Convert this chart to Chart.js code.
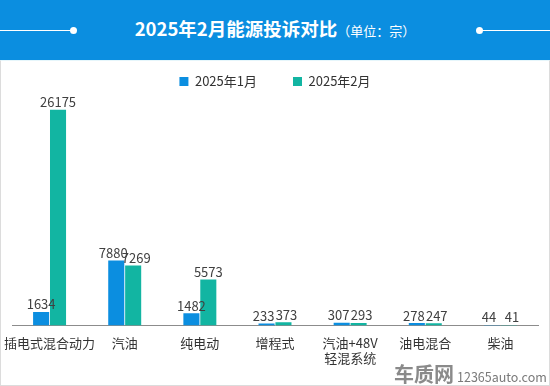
<!DOCTYPE html>
<html>
<head>
<meta charset="utf-8">
<script src="https://cdn.jsdelivr.net/npm/chart.js@4.4.0/dist/chart.umd.min.js"></script>
<style>
    body { margin: 0; background: #fff; font-family: "Noto Sans CJK SC", "Noto Sans", sans-serif; }
    .wrap { position: relative; width: 550px; height: 386px; overflow: hidden; }
    .header { position: absolute; left: 0; top: 0; width: 550px; height: 60px; background: #0b8ee0; }
    .header .title { position: absolute; left: 0; width: 550px; top: 15px; text-align: center; color: #fff; }
    .header .title b { font-size: 18.5px; }
    .header .title span { font-size: 13px; }
    .line { position: absolute; top: 30px; height: 1px; background: #fff; }
    .dot { position: absolute; top: 27px; width: 7px; height: 7px; border-radius: 50%; background: #fff; }
    .panel { position: absolute; left: 0; top: 60px; width: 548px; height: 324px; border: 1px solid #dcdcdc; border-top-color: #e6f6fb; }
    #chart { position: absolute; left: 0; top: 39px; }
    .mark { position: absolute; left: 394px; top: 359px; color: #8a8a8a; white-space: nowrap; }
    .mark b { font-size: 20px; }
    .mark span { font-size: 12.5px; color: #7a7a7a; margin-left: 3px; }
</style>
</head>
<body>
<div class="wrap">
    <div class="header">
        <div class="line" style="left:0;width:72px"></div>
        <div class="dot" style="left:70px"></div>
        <div class="line" style="left:480px;width:70px"></div>
        <div class="dot" style="left:476px"></div>
        <div class="title"><b>2025年2月能源投诉对比</b><span>（单位：宗）</span></div>
    </div>
    <div class="panel"></div>
    <canvas id="chart" width="550" height="347"></canvas>
    <div class="mark"><b>车质网</b><span>12365auto.com</span></div>
</div>
<script>
// Data
const categories = ['插电式混合动力', '汽油', '纯电动', '增程式', ['汽油+48V', '轻混系统'], '油电混合', '柴油'];
const seriesNames = ['2025年1月', '2025年2月'];
const jan = [1634, 7880, 1482, 233, 307, 278, 44];
const feb = [26175, 7269, 5573, 373, 293, 247, 41];
const colors = ['#0b8ee0', '#12b5a2'];

// value labels above bars, nudged apart when two labels sit at about the same height
const barLabels = {
    id: 'barLabels',
    afterDatasetsDraw(chart) {
        const ctx = chart.ctx;
        const a = chart.getDatasetMeta(0).data;
        const b = chart.getDatasetMeta(1).data;
        ctx.save();
        ctx.font = '13px "Noto Sans CJK SC", sans-serif';
        ctx.fillStyle = '#404040';
        ctx.textAlign = 'center';
        ctx.textBaseline = 'bottom';
        chart.data.labels.forEach((_, j) => {
            const close = Math.abs(a[j].y - b[j].y) < 14;
            const shift = close ? 3 : 0;
            ctx.fillText(jan[j], a[j].x - shift, a[j].y - 1);
            ctx.fillText(feb[j], b[j].x + shift, b[j].y - 1);
        });
        ctx.restore();
    }
};

new Chart(document.getElementById('chart'), {
    type: 'bar',
    data: {
        labels: categories,
        datasets: [
            { label: seriesNames[0], data: jan, backgroundColor: colors[0] },
            { label: seriesNames[1], data: feb, backgroundColor: colors[1] }
        ]
    },
    options: {
        responsive: false,
        animation: false,
        layout: { padding: { left: 12, right: 12, top: 0, bottom: 18 } },
        datasets: {
            bar: { categoryPercentage: 0.45, barPercentage: 0.95 }
        },
        plugins: {
            legend: {
                position: 'top',
                labels: {
                    boxWidth: 9,
                    boxHeight: 9,
                    padding: 36,
                    color: '#333',
                    font: { size: 13, family: '"Noto Sans CJK SC", sans-serif' }
                }
            },
            tooltip: { enabled: false }
        },
        scales: {
            x: {
                grid: { display: false },
                border: { color: '#8c8c8c', width: 1 },
                ticks: {
                    color: '#333',
                    padding: 3,
                    maxRotation: 0,
                    autoSkip: false,
                    font: { size: 13, family: '"Noto Sans CJK SC", sans-serif', lineHeight: 1.1 }
                }
            },
            y: {
                display: false,
                min: 0,
                max: 27600
            }
        }
    },
    plugins: [barLabels]
});
</script>
</body>
</html>
